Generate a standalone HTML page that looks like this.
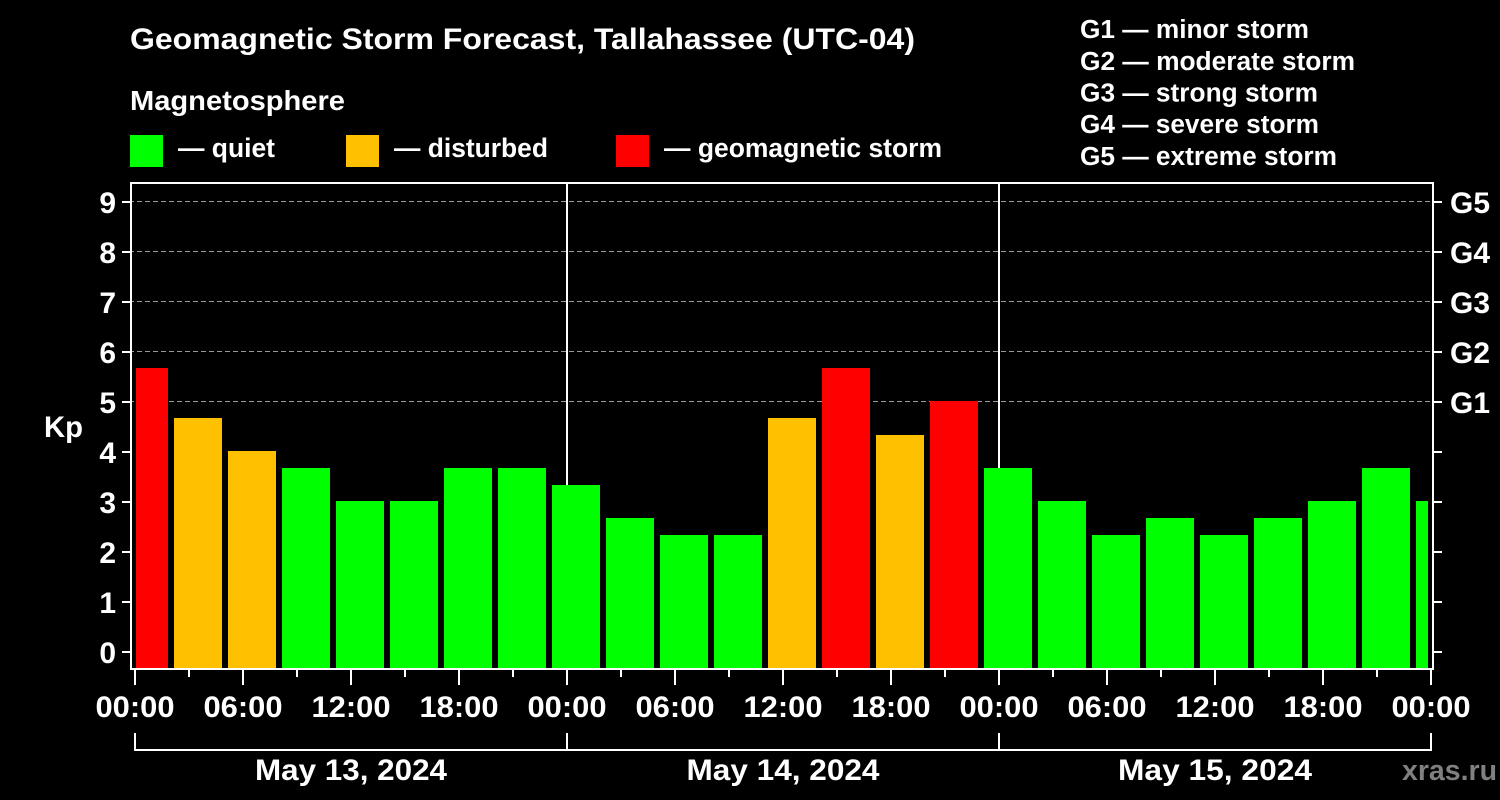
<!DOCTYPE html>
<html><head><meta charset="utf-8"><style>
html,body{margin:0;padding:0;background:#000;}
svg{display:block;}
text{font-family:"Liberation Sans",Arial,sans-serif;font-weight:bold;fill:#fff;}
</style></head><body>
<svg width="1500" height="800" viewBox="0 0 1500 800" xmlns="http://www.w3.org/2000/svg">
<rect x="0" y="0" width="1500" height="800" fill="#000"/>
<!-- Title & legend -->
<text x="130" y="49" font-size="30" textLength="785" lengthAdjust="spacingAndGlyphs">Geomagnetic Storm Forecast, Tallahassee (UTC-04)</text>
<text x="130" y="110" font-size="28" textLength="215" lengthAdjust="spacingAndGlyphs">Magnetosphere</text>
<rect x="130" y="135" width="33" height="32" fill="#00ff00"/>
<text x="178" y="157" font-size="27" textLength="97" lengthAdjust="spacingAndGlyphs">— quiet</text>
<rect x="346" y="135" width="33" height="32" fill="#ffc000"/>
<text x="394" y="157" font-size="27" textLength="154" lengthAdjust="spacingAndGlyphs">— disturbed</text>
<rect x="616" y="135" width="33" height="32" fill="#ff0000"/>
<text x="664" y="157" font-size="27" textLength="278" lengthAdjust="spacingAndGlyphs">— geomagnetic storm</text>

<text x="1080" y="38" font-size="25.5" textLength="229" lengthAdjust="spacingAndGlyphs">G1 — minor storm</text>
<text x="1080" y="70" font-size="25.5" textLength="275" lengthAdjust="spacingAndGlyphs">G2 — moderate storm</text>
<text x="1080" y="101.5" font-size="25.5" textLength="238" lengthAdjust="spacingAndGlyphs">G3 — strong storm</text>
<text x="1080" y="133" font-size="25.5" textLength="239" lengthAdjust="spacingAndGlyphs">G4 — severe storm</text>
<text x="1080" y="165" font-size="25.5" textLength="257" lengthAdjust="spacingAndGlyphs">G5 — extreme storm</text>

<!-- grid -->
<g stroke="#9a9a9a" stroke-width="1" stroke-dasharray="5,3">
<line x1="129" y1="401.5" x2="1432" y2="401.5"/>
<line x1="129" y1="351.5" x2="1432" y2="351.5"/>
<line x1="129" y1="301.5" x2="1432" y2="301.5"/>
<line x1="129" y1="251.5" x2="1432" y2="251.5"/>
<line x1="129" y1="201.5" x2="1432" y2="201.5"/>
</g>
<!-- day separators -->
<g stroke="#fff" stroke-width="2">
<line x1="567" y1="183" x2="567" y2="669"/>
<line x1="999" y1="183" x2="999" y2="669"/>
</g>
<!-- bars -->
<g>
<rect x="136" y="368" width="32" height="300" fill="#ff0000"/>
<rect x="174" y="418" width="48" height="250" fill="#ffc000"/>
<rect x="228" y="451" width="48" height="217" fill="#ffc000"/>
<rect x="282" y="468" width="48" height="200" fill="#00ff00"/>
<rect x="336" y="501" width="48" height="167" fill="#00ff00"/>
<rect x="390" y="501" width="48" height="167" fill="#00ff00"/>
<rect x="444" y="468" width="48" height="200" fill="#00ff00"/>
<rect x="498" y="468" width="48" height="200" fill="#00ff00"/>
<rect x="552" y="485" width="48" height="183" fill="#00ff00"/>
<rect x="606" y="518" width="48" height="150" fill="#00ff00"/>
<rect x="660" y="535" width="48" height="133" fill="#00ff00"/>
<rect x="714" y="535" width="48" height="133" fill="#00ff00"/>
<rect x="768" y="418" width="48" height="250" fill="#ffc000"/>
<rect x="822" y="368" width="48" height="300" fill="#ff0000"/>
<rect x="876" y="435" width="48" height="233" fill="#ffc000"/>
<rect x="930" y="401" width="48" height="267" fill="#ff0000"/>
<rect x="984" y="468" width="48" height="200" fill="#00ff00"/>
<rect x="1038" y="501" width="48" height="167" fill="#00ff00"/>
<rect x="1092" y="535" width="48" height="133" fill="#00ff00"/>
<rect x="1146" y="518" width="48" height="150" fill="#00ff00"/>
<rect x="1200" y="535" width="48" height="133" fill="#00ff00"/>
<rect x="1254" y="518" width="48" height="150" fill="#00ff00"/>
<rect x="1308" y="501" width="48" height="167" fill="#00ff00"/>
<rect x="1362" y="468" width="48" height="200" fill="#00ff00"/>
<rect x="1416" y="501" width="12" height="167" fill="#00ff00"/>
</g>
<!-- frame -->
<rect x="131" y="183" width="1302" height="486" fill="none" stroke="#fff" stroke-width="2"/>
<!-- y ticks -->
<g stroke="#fff" stroke-width="2">
<line x1="122" y1="652" x2="131" y2="652"/><line x1="1433" y1="652" x2="1442" y2="652"/>
<line x1="122" y1="602" x2="131" y2="602"/><line x1="1433" y1="602" x2="1442" y2="602"/>
<line x1="122" y1="552" x2="131" y2="552"/><line x1="1433" y1="552" x2="1442" y2="552"/>
<line x1="122" y1="502" x2="131" y2="502"/><line x1="1433" y1="502" x2="1442" y2="502"/>
<line x1="122" y1="452" x2="131" y2="452"/><line x1="1433" y1="452" x2="1442" y2="452"/>
<line x1="122" y1="402" x2="131" y2="402"/><line x1="1433" y1="402" x2="1442" y2="402"/>
<line x1="122" y1="352" x2="131" y2="352"/><line x1="1433" y1="352" x2="1442" y2="352"/>
<line x1="122" y1="302" x2="131" y2="302"/><line x1="1433" y1="302" x2="1442" y2="302"/>
<line x1="122" y1="252" x2="131" y2="252"/><line x1="1433" y1="252" x2="1442" y2="252"/>
<line x1="122" y1="202" x2="131" y2="202"/><line x1="1433" y1="202" x2="1442" y2="202"/>
</g>
<!-- y labels -->
<g font-size="30" text-anchor="end">
<text x="116" y="663">0</text>
<text x="116" y="613">1</text>
<text x="116" y="563">2</text>
<text x="116" y="513">3</text>
<text x="116" y="463">4</text>
<text x="116" y="413">5</text>
<text x="116" y="363">6</text>
<text x="116" y="313">7</text>
<text x="116" y="263">8</text>
<text x="116" y="213">9</text>
</g>
<text x="44" y="437" font-size="30" textLength="39" lengthAdjust="spacingAndGlyphs">Kp</text>
<g font-size="30">
<text x="1450" y="413" textLength="40" lengthAdjust="spacingAndGlyphs">G1</text>
<text x="1450" y="363" textLength="40" lengthAdjust="spacingAndGlyphs">G2</text>
<text x="1450" y="313" textLength="40" lengthAdjust="spacingAndGlyphs">G3</text>
<text x="1450" y="263" textLength="40" lengthAdjust="spacingAndGlyphs">G4</text>
<text x="1450" y="213" textLength="40" lengthAdjust="spacingAndGlyphs">G5</text>
</g>
<!-- x ticks -->
<g stroke="#fff" stroke-width="2">
<line x1="135" y1="670" x2="135" y2="685"/>
<line x1="243" y1="670" x2="243" y2="685"/>
<line x1="351" y1="670" x2="351" y2="685"/>
<line x1="459" y1="670" x2="459" y2="685"/>
<line x1="567" y1="670" x2="567" y2="685"/>
<line x1="675" y1="670" x2="675" y2="685"/>
<line x1="783" y1="670" x2="783" y2="685"/>
<line x1="891" y1="670" x2="891" y2="685"/>
<line x1="999" y1="670" x2="999" y2="685"/>
<line x1="1107" y1="670" x2="1107" y2="685"/>
<line x1="1215" y1="670" x2="1215" y2="685"/>
<line x1="1323" y1="670" x2="1323" y2="685"/>
<line x1="1431" y1="670" x2="1431" y2="685"/>
<line x1="189" y1="670" x2="189" y2="677"/>
<line x1="297" y1="670" x2="297" y2="677"/>
<line x1="405" y1="670" x2="405" y2="677"/>
<line x1="513" y1="670" x2="513" y2="677"/>
<line x1="621" y1="670" x2="621" y2="677"/>
<line x1="729" y1="670" x2="729" y2="677"/>
<line x1="837" y1="670" x2="837" y2="677"/>
<line x1="945" y1="670" x2="945" y2="677"/>
<line x1="1053" y1="670" x2="1053" y2="677"/>
<line x1="1161" y1="670" x2="1161" y2="677"/>
<line x1="1269" y1="670" x2="1269" y2="677"/>
<line x1="1377" y1="670" x2="1377" y2="677"/>
</g>
<!-- x labels -->
<g font-size="30" text-anchor="middle">
<text x="135" y="717" textLength="79" lengthAdjust="spacingAndGlyphs">00:00</text>
<text x="243" y="717" textLength="79" lengthAdjust="spacingAndGlyphs">06:00</text>
<text x="351" y="717" textLength="79" lengthAdjust="spacingAndGlyphs">12:00</text>
<text x="459" y="717" textLength="79" lengthAdjust="spacingAndGlyphs">18:00</text>
<text x="567" y="717" textLength="79" lengthAdjust="spacingAndGlyphs">00:00</text>
<text x="675" y="717" textLength="79" lengthAdjust="spacingAndGlyphs">06:00</text>
<text x="783" y="717" textLength="79" lengthAdjust="spacingAndGlyphs">12:00</text>
<text x="891" y="717" textLength="79" lengthAdjust="spacingAndGlyphs">18:00</text>
<text x="999" y="717" textLength="79" lengthAdjust="spacingAndGlyphs">00:00</text>
<text x="1107" y="717" textLength="79" lengthAdjust="spacingAndGlyphs">06:00</text>
<text x="1215" y="717" textLength="79" lengthAdjust="spacingAndGlyphs">12:00</text>
<text x="1323" y="717" textLength="79" lengthAdjust="spacingAndGlyphs">18:00</text>
<text x="1431" y="717" textLength="79" lengthAdjust="spacingAndGlyphs">00:00</text>
</g>
<!-- date bracket -->
<g stroke="#fff" stroke-width="2" fill="none">
<line x1="134" y1="750" x2="1432" y2="750"/>
<line x1="135" y1="733" x2="135" y2="751"/>
<line x1="567" y1="733" x2="567" y2="751"/>
<line x1="999" y1="733" x2="999" y2="751"/>
<line x1="1431" y1="733" x2="1431" y2="751"/>
</g>
<g font-size="30" text-anchor="middle">
<text x="351" y="780" textLength="192" lengthAdjust="spacingAndGlyphs">May 13, 2024</text>
<text x="783" y="780" textLength="193" lengthAdjust="spacingAndGlyphs">May 14, 2024</text>
<text x="1215" y="780" textLength="194" lengthAdjust="spacingAndGlyphs">May 15, 2024</text>
</g>
<text x="1402" y="780" font-size="28.5" fill="#808080" style="fill:#808080" textLength="95" lengthAdjust="spacingAndGlyphs">xras.ru</text>
</svg>
</body></html>
